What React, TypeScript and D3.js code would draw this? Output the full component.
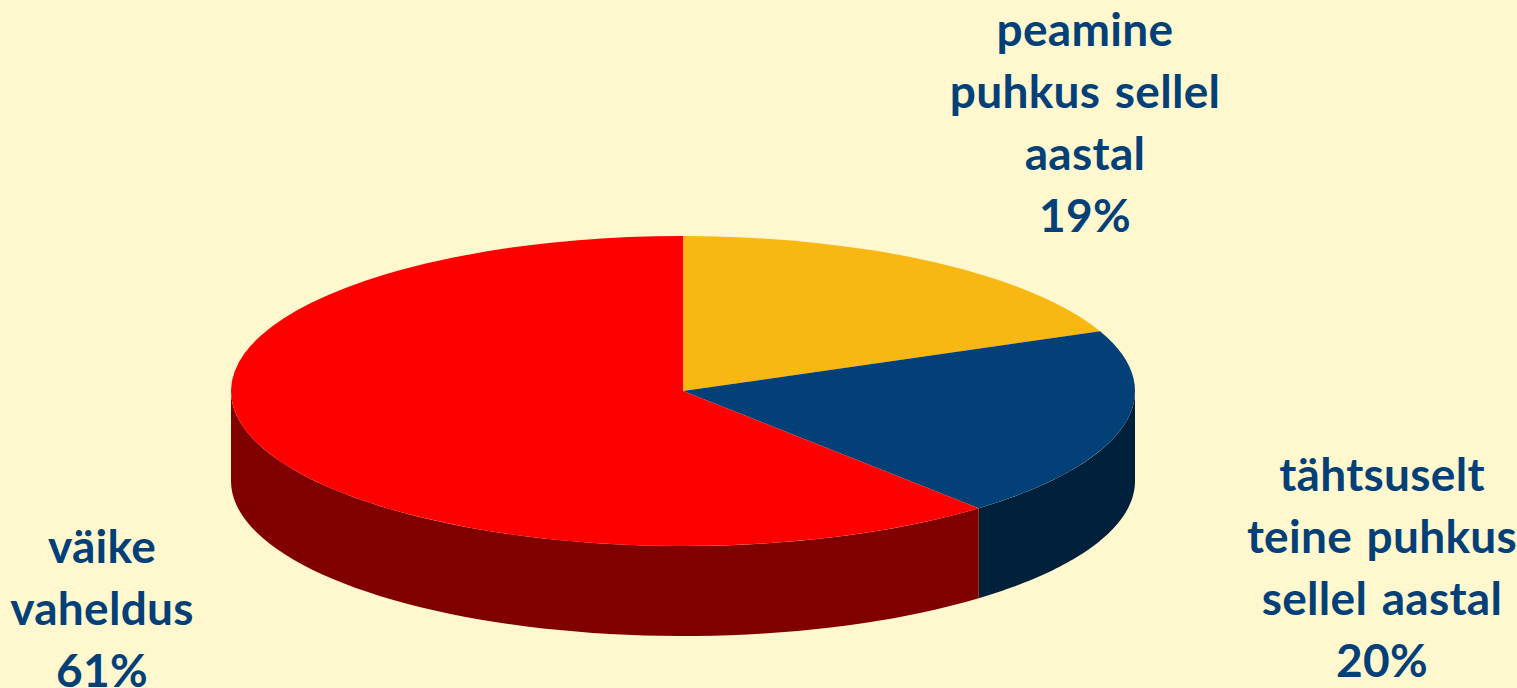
import React from "react";
import * as d3 from "d3";

const sliceNames = ["peamine", "tähtsuselt", "väike"];
const sliceValues = [18.7, 19.95, 61.35];
const topColors = ["#F9B712", "#034078", "#FF0000"];
const sideColors = ["#7C5B09", "#01203C", "#800000"];
const labelLines = [
  ["peamine", "puhkus sellel", "aastal", "19%"],
  ["tähtsuselt", "teine puhkus", "sellel aastal", "20%"],
  ["väike", "vaheldus", "61%"],
];
const labelX = [1085, 1382, 102];
const labelY = [46, 491, 563];

const W = 1517, H = 688;
const cx = 683, cy = 391, rx = 452, ry = 155, depth = 90;
const lineStep = 62;

export default function App() {
  const pie = d3.pie<number>().sort(null).value((d) => d);
  const arcs = pie(sliceValues);
  const arc = d3.arc<d3.PieArcDatum<number>>().innerRadius(0).outerRadius(rx);
  const sidePath = d3
    .area<number>()
    .x((t) => rx * Math.sin(t))
    .y0((t) => -ry * Math.cos(t))
    .y1((t) => -ry * Math.cos(t) + depth);
  return (
    <svg
      width={W}
      height={H}
      viewBox={`0 0 ${W} ${H}`}
      style={{ position: "fixed", left: 0, top: 0, display: "block" }}
    >
      <rect width={W} height={H} fill="#FFF7CE" />
      <g transform={`translate(${cx},${cy})`}>
        {arcs.map((a, i) => {
          const s = Math.max(a.startAngle, Math.PI / 2);
          const e = Math.min(a.endAngle, (3 * Math.PI) / 2);
          if (e <= s) return null;
          const ts = d3.range(0, 61).map((k) => s + ((e - s) * k) / 60);
          return <path key={i} d={sidePath(ts) ?? ""} fill={sideColors[i]} />;
        })}
        <g transform={`scale(1,${ry / rx})`}>
          {arcs.map((a, i) => (
            <path key={sliceNames[i]} d={arc(a) ?? ""} fill={topColors[i]} />
          ))}
        </g>
      </g>
      {labelLines.map((lines, i) => (
        <text
          key={i}
          textAnchor="middle"
          fontFamily="Lato, 'Open Sans', sans-serif"
          fontWeight={700}
          fontSize={46}
          letterSpacing={0.3}
          wordSpacing={3}
          fill="#034078"
        >
          {lines.map((l, j) => (
            <tspan key={j} x={labelX[i]} y={labelY[i] + j * lineStep}>
              {l}
            </tspan>
          ))}
        </text>
      ))}
    </svg>
  );
}
